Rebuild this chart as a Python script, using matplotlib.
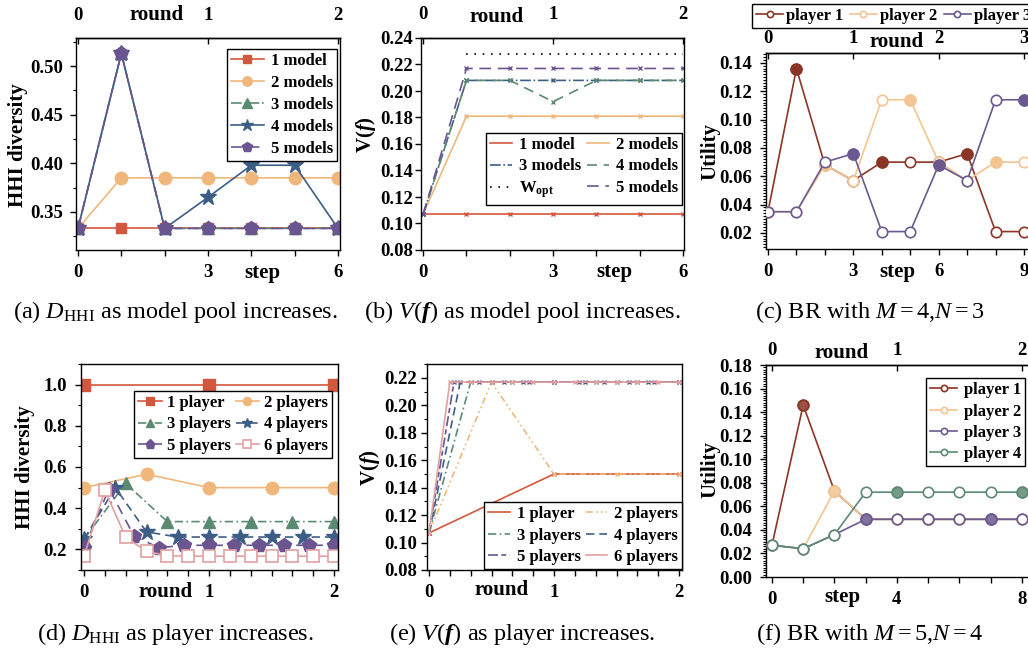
import numpy as np
import matplotlib
matplotlib.use('Agg')
import matplotlib.pyplot as plt
from matplotlib.ticker import MultipleLocator

plt.rcParams['font.family'] = ['Liberation Serif', 'DejaVu Serif']
plt.rcParams['font.weight'] = 'bold'
plt.rcParams['axes.labelweight'] = 'bold'
plt.rcParams['mathtext.fontset'] = 'custom'
plt.rcParams['mathtext.rm'] = 'Liberation Serif:style=normal:weight=normal'
plt.rcParams['mathtext.it'] = 'Liberation Serif:style=italic:weight=normal'
plt.rcParams['mathtext.bf'] = 'Liberation Serif:style=normal:weight=bold'
plt.rcParams['mathtext.bfit'] = 'Liberation Serif:style=italic:weight=bold'
plt.rcParams['axes.linewidth'] = 1.0

W, H = 1028, 652

# (a) HHI diversity vs step, model pool size
steps_a = [0, 1, 2, 3, 4, 5, 6]
hhi_1model = [0.333, 0.333, 0.333, 0.333, 0.333, 0.333, 0.333]
hhi_2models = [0.333, 0.385, 0.385, 0.385, 0.385, 0.385, 0.385]
hhi_3models = [0.333, 0.513, 0.333, 0.333, 0.333, 0.333, 0.333]
hhi_4models = [0.333, 0.513, 0.333, 0.365, 0.398, 0.398, 0.333]
hhi_5models = [0.333, 0.513, 0.333, 0.333, 0.333, 0.333, 0.333]

# (b) V(f) vs step, model pool size
v_1model = [0.107, 0.107, 0.107, 0.107, 0.107, 0.107, 0.107]
v_2models = [0.107, 0.181, 0.181, 0.181, 0.181, 0.181, 0.181]
v_3models = [0.107, 0.208, 0.208, 0.208, 0.208, 0.208, 0.208]
v_4models = [0.107, 0.208, 0.208, 0.192, 0.208, 0.208, 0.208]
v_5models = [0.107, 0.217, 0.217, 0.217, 0.217, 0.217, 0.217]
steps_wopt = [1, 2, 3, 4, 5, 6]
w_opt = [0.228, 0.228, 0.228, 0.228, 0.228, 0.228]

# (c) best response, M=4, N=3
steps_c = [0, 1, 2, 3, 4, 5, 6, 7, 8, 9]
util_c_p1 = [0.035, 0.136, 0.068, 0.057, 0.070, 0.070, 0.070, 0.076, 0.021, 0.021]
util_c_p2 = [0.035, 0.035, 0.068, 0.057, 0.114, 0.114, 0.070, 0.057, 0.070, 0.070]
util_c_p3 = [0.035, 0.035, 0.070, 0.076, 0.021, 0.021, 0.068, 0.057, 0.114, 0.114]
mover_c = [0, 1, 2, 3, 1, 2, 3, 1, 2, 3]  # player moving at each step (0 = none)

# (d) HHI diversity vs round, number of players
hhi_p1 = [1.0, 1.0, 1.0]
hhi_p2 = [0.50, 0.565, 0.50, 0.50, 0.50]
hhi_p3 = [0.25, 0.52, 0.335, 0.335, 0.335, 0.335, 0.335]
hhi_p4 = [0.25, 0.50, 0.285, 0.26, 0.26, 0.26, 0.26, 0.26, 0.26]
hhi_p5 = [0.205, 0.495, 0.265, 0.208, 0.22, 0.22, 0.22, 0.22, 0.22, 0.22, 0.22]
hhi_p6 = [0.167, 0.487, 0.26, 0.19, 0.17, 0.167, 0.167, 0.167, 0.167,
          0.167, 0.167, 0.167, 0.167]

# (e) V(f) vs round, number of players
v_p1 = [0.107, 0.150, 0.150]
v_p2 = [0.107, 0.217, 0.150, 0.150, 0.150]
v_p3 = [0.107, 0.217, 0.217, 0.217, 0.217, 0.217, 0.217]
v_p4 = [0.107, 0.217, 0.217, 0.217, 0.217, 0.217, 0.217, 0.217, 0.217]
v_p5 = [0.107, 0.217, 0.217, 0.217, 0.217, 0.217, 0.217, 0.217, 0.217, 0.217, 0.217]
v_p6 = [0.107, 0.217, 0.217, 0.217, 0.217, 0.217, 0.217, 0.217, 0.217,
        0.217, 0.217, 0.217, 0.217]

# (f) best response, M=5, N=4
steps_f = [0, 1, 2, 3, 4, 5, 6, 7, 8]
util_f_p1 = [0.027, 0.146, 0.073, 0.049, 0.049, 0.049, 0.049, 0.049, 0.049]
util_f_p2 = [0.027, 0.024, 0.073, 0.049, 0.049, 0.049, 0.049, 0.049, 0.049]
util_f_p3 = [0.027, 0.024, 0.036, 0.049, 0.049, 0.049, 0.049, 0.049, 0.049]
util_f_p4 = [0.027, 0.024, 0.036, 0.072, 0.072, 0.072, 0.072, 0.072, 0.072]
mover_f = [0, 1, 2, 3, 4, 1, 2, 3, 4]

c_red = '#d2573c'
c_org = '#f0b77c'
c_grn = '#5b8a72'
c_blu = '#3c5e86'
c_pur = '#6a5590'
c_pnk = '#e3a0a0'
p_red = '#8b3526'
p_org = '#f2c592'
p_pur = '#6b5a8f'
p_grn = '#5e8a74'

TICK = 13.5
WORD = 15
CAP = 17.5

fig = plt.figure(figsize=(W / 100, H / 100), dpi=100)


def box(x0, y0, x1, y1):
    return fig.add_axes([x0 / W, 1 - y1 / H, (x1 - x0) / W, (y1 - y0) / H])


def ftext(x, y, s, **kw):
    kw.setdefault('ha', 'center')
    kw.setdefault('va', 'center')
    fig.text(x / W, 1 - y / H, s, **kw)


def anchor(x, y):
    return (x / W, 1 - y / H)


def style(ax, ypad=5):
    ax.tick_params(axis='both', which='major', direction='out', length=4,
                   width=1, labelsize=TICK)
    ax.tick_params(axis='y', which='major', pad=ypad)
    ax.tick_params(axis='x', which='major', pad=6)
    ax.tick_params(which='minor', direction='out', length=2.2, width=0.8)
    ax.tick_params(axis='x', which='minor', length=4, width=1)


def top_axis(ax, ticks, labels, pad):
    sec = ax.secondary_xaxis('top')
    sec.set_xticks(ticks, labels=labels)
    sec.tick_params(direction='in', length=4, width=1, labelsize=TICK, pad=pad)
    return sec


leg_kw = dict(frameon=True, fancybox=False, framealpha=1, edgecolor='black',
              prop={'size': 12, 'weight': 'bold'}, borderpad=0.25,
              borderaxespad=0, bbox_transform=fig.transFigure)

# ---------------- (a)
ax = box(76, 38, 340, 250)
ax.plot(steps_a, hhi_1model, '-s', color=c_red, lw=1.2, ms=7.5, label='1 model')
ax.plot(steps_a, hhi_2models, '-o', color=c_org, lw=1.2, ms=9, label='2 models')
ax.plot(steps_a, hhi_3models, '-.^', color=c_grn, lw=1.2, ms=9, label='3 models')
ax.plot(steps_a, hhi_4models, '-*', color=c_blu, lw=1.2, ms=12, label='4 models')
ax.plot(steps_a, hhi_5models, '--p', color=c_pur, lw=1.2, ms=10,
        dashes=(7, 3), label='5 models')
ax.set_xlim(-0.046, 6.046)
ax.set_ylim(0.3108, 0.5289)
ax.set_xticks(steps_a, labels=['0', '', '', '3', '', '', '6'])
ax.yaxis.set_major_locator(MultipleLocator(0.05))
ax.yaxis.set_minor_locator(MultipleLocator(0.025))
ax.yaxis.set_major_formatter(lambda v, p: f'{v:.2f}')
style(ax)
top_axis(ax, [0, 3, 6], ['0', '1', '2'], 10)
ax.legend(loc='upper right', bbox_to_anchor=anchor(337, 49),
          markerscale=0.75, handlelength=2.0, handletextpad=0.4,
          labelspacing=0.36, **leg_kw)
ftext(18, 145, 'HHI diversity', rotation=90, fontsize=WORD)
ftext(157, 15, 'round', fontsize=WORD)
ftext(262, 273, 'step', fontsize=WORD)
ftext(175, 312, r'(a) $D_{\mathrm{HHI}}$ as model pool increases.',
      fontsize=CAP, fontweight='normal')

# ---------------- (b)
ax = box(421, 38, 684, 250)
mk = dict(marker='x', ms=3.5, mew=1, lw=1.2)
l1, = ax.plot(steps_a, v_1model, '-', color=c_red, label='1 model', **mk)
l2, = ax.plot(steps_a, v_2models, '-', color=c_org, label='2 models', **mk)
l3, = ax.plot(steps_a, v_3models, '-.', color=c_blu, label='3 models', **mk)
l4, = ax.plot(steps_a, v_4models, '--', color=c_grn, dashes=(6, 4),
              label='4 models', **mk)
l6, = ax.plot(steps_a, v_5models, '--', color=c_pur, dashes=(7, 4),
              label='5 models', **mk)
l5, = ax.plot(steps_wopt, w_opt, ':', color='black', lw=1.2, dashes=(1, 4),
              label=r'W$_{\mathbf{opt}}$')
ax.set_xlim(-0.05, 6.02)
ax.set_ylim(0.08, 0.24)
ax.set_xticks(steps_a, labels=['0', '', '', '3', '', '', '6'])
ax.yaxis.set_major_locator(MultipleLocator(0.02))
ax.yaxis.set_major_formatter(lambda v, p: f'{v:.2f}')
style(ax, ypad=2)
top_axis(ax, [0, 3, 6], ['0', '1', '2'], 11)
ax.legend(handles=[l1, l3, l5, l2, l4, l6], ncol=2, loc='upper right',
          bbox_to_anchor=anchor(682, 133), handlelength=1.3, handletextpad=0.4,
          columnspacing=0.4, labelspacing=0.32, markerscale=0, **leg_kw)
ftext(366, 135, r'V($\mathbfit{f}$)', rotation=90, fontsize=WORD)
ftext(497, 17, 'round', fontsize=WORD)
ftext(614, 272, 'step', fontsize=WORD)
ftext(522, 312, r'(b) $V(\mathbfit{f})$ as model pool increases.',
      fontsize=CAP, fontweight='normal')


def br_panel(ax, steps, series, colors, labels, mover, alpha):
    handles = []
    for i, (vals, col, lab) in enumerate(zip(series, colors, labels)):
        h, = ax.plot(steps, vals, '-o', color=col, lw=1.2, ms=7.5, mfc='white',
                     mew=1.2, label=lab, zorder=2 + i)
        sel = [k for k, m in enumerate(mover) if m == i + 1]
        ax.plot([steps[k] for k in sel], [vals[k] for k in sel], 'o',
                color=col, ms=8, alpha=alpha, zorder=2 + i)
        handles.append(h)
    return handles


# ---------------- (c)
ax = box(766, 53, 1030, 249)
hc = br_panel(ax, steps_c, [util_c_p1, util_c_p2, util_c_p3],
              [p_red, p_org, p_pur], ['player 1', 'player 2', 'player 3'],
              mover_c, 1.0)
ax.set_xlim(-0.07, 9.21)
ax.set_ylim(0.0087, 0.147)
ax.set_xticks(steps_c, labels=['0', '', '', '3', '', '', '6', '', '', '9'])
ax.yaxis.set_major_locator(MultipleLocator(0.02))
ax.yaxis.set_minor_locator(MultipleLocator(0.002))
ax.yaxis.set_major_formatter(lambda v, p: f'{v:.2f}')
style(ax, ypad=6)
top_axis(ax, [0, 3, 6, 9], ['0', '1', '2', '3'], 4)
ax.legend(handles=hc, ncol=3, loc='upper left', bbox_to_anchor=anchor(752, 4),
          handlelength=1.6, handletextpad=0.2, columnspacing=0.4,
          markerscale=0.6, **leg_kw)
ftext(710, 151, 'Utility', rotation=90, fontsize=WORD)
ftext(897, 42, 'round', fontsize=WORD)
ftext(897, 272, 'step', fontsize=WORD)
ftext(870, 312, r'(c) BR with $M=4$,$N=3$', fontsize=CAP,
      fontweight='normal')

# ---------------- (d)
ax = box(81, 364, 338, 570)


def rounds(vals):
    n = (len(vals) - 1) // 2
    return np.arange(len(vals)) / n


d1, = ax.plot(rounds(hhi_p1), hhi_p1, '-s', color=c_red, lw=1.2, ms=8,
              label='1 player')
d2, = ax.plot(rounds(hhi_p2), hhi_p2, '-o', color=c_org, lw=1.2, ms=9,
              label='2 players')
d3, = ax.plot(rounds(hhi_p3), hhi_p3, '-.^', color=c_grn, lw=1.2, ms=9,
              dashes=(5, 2, 1, 2), label='3 players')
d4, = ax.plot(rounds(hhi_p4), hhi_p4, '--*', color=c_blu, lw=1.2, ms=12,
              dashes=(5, 3), label='4 players')
d5, = ax.plot(rounds(hhi_p5), hhi_p5, '--p', color=c_pur, lw=1.2, ms=10,
              dashes=(6, 4), label='5 players')
d6, = ax.plot(rounds(hhi_p6), hhi_p6, '-s', color=c_pnk, lw=1.2, ms=8,
              mfc='white', mew=1.2, label='6 players')
ax.set_xlim(-0.024, 2.032)
ax.set_ylim(0.1, 1.1)
ax.set_xticks([0, 1, 2])
ax.xaxis.set_minor_locator(MultipleLocator(1 / 6))
ax.yaxis.set_major_locator(MultipleLocator(0.2))
ax.yaxis.set_minor_locator(MultipleLocator(0.1))
ax.yaxis.set_major_formatter(lambda v, p: f'{v:.1f}')
style(ax, ypad=6)
ax.legend(handles=[d1, d3, d5, d2, d4, d6], ncol=2, loc='upper right',
          bbox_to_anchor=anchor(332, 391), handlelength=1.4, handletextpad=0.3,
          columnspacing=0.3, labelspacing=0.32, markerscale=0.65, **leg_kw)
ftext(25, 467, 'HHI diversity', rotation=90, fontsize=WORD)
ftext(166, 592, 'round', fontsize=WORD)
ftext(175, 634, r'(d) $D_{\mathrm{HHI}}$ as player increases.',
      fontsize=CAP, fontweight='normal')

# ---------------- (e)
ax = box(427, 364, 682, 570)
mk = dict(marker='x', ms=3.5, mew=1, lw=1.2)
e1, = ax.plot(rounds(v_p1), v_p1, '-', color=c_red, label='1 player', **mk)
e2, = ax.plot(rounds(v_p2), v_p2, '-.', color=c_org, dashes=(4, 2, 1, 2, 1, 2),
              label='2 players', **mk)
e3, = ax.plot(rounds(v_p3), v_p3, '-.', color=c_grn, dashes=(5, 2, 1, 2),
              label='3 players', **mk)
e4, = ax.plot(rounds(v_p4), v_p4, '--', color=c_blu, dashes=(5, 3),
              label='4 players', **mk)
e5, = ax.plot(rounds(v_p5), v_p5, '--', color=c_pur, dashes=(6, 2, 3, 2),
              label='5 players', **mk)
e6, = ax.plot(rounds(v_p6), v_p6, '-', color=c_pnk, label='6 players', **mk)
ax.set_xlim(-0.016, 2.024)
ax.set_ylim(0.08, 0.2302)
ax.set_xticks([0, 1, 2])
ax.xaxis.set_minor_locator(MultipleLocator(1 / 6))
ax.yaxis.set_major_locator(MultipleLocator(0.02))
ax.yaxis.set_minor_locator(MultipleLocator(0.01))
ax.yaxis.set_major_formatter(lambda v, p: f'{v:.2f}')
style(ax, ypad=3)
ax.legend(handles=[e1, e3, e5, e2, e4, e6], ncol=2, loc='lower right',
          bbox_to_anchor=anchor(682, 569), handlelength=1.3, handletextpad=0.4,
          columnspacing=0.3, labelspacing=0.32, markerscale=0, **leg_kw)
ftext(370, 468, r'V($\mathbfit{f}$)', rotation=90, fontsize=WORD)
ftext(502, 590, 'round', fontsize=WORD)
ftext(522, 634, r'(e) $V(\mathbfit{f})$ as player increases.',
      fontsize=CAP, fontweight='normal')

# ---------------- (f)
ax = box(766, 365, 1030, 577)
hf = br_panel(ax, steps_f, [util_f_p1, util_f_p2, util_f_p3, util_f_p4],
              [p_red, p_org, p_pur, p_grn],
              ['player 1', 'player 2', 'player 3', 'player 4'], mover_f, 0.85)
ax.set_xlim(-0.19, 8.26)
ax.set_ylim(0.0, 0.18)
ax.set_xticks(steps_f, labels=['0', '', '', '', '4', '', '', '', '8'])
ax.yaxis.set_major_locator(MultipleLocator(0.02))
ax.yaxis.set_minor_locator(MultipleLocator(0.002))
ax.yaxis.set_major_formatter(lambda v, p: f'{v:.2f}')
style(ax, ypad=6)
top_axis(ax, [0, 4, 8], ['0', '1', '2'], 4)
ax.legend(handles=hf, loc='upper right', bbox_to_anchor=anchor(1025, 378),
          handlelength=1.6, handletextpad=0.4, labelspacing=0.32,
          markerscale=0.6, **leg_kw)
ftext(710, 469, 'Utility', rotation=90, fontsize=WORD)
ftext(842, 353, 'round', fontsize=WORD)
ftext(842, 597, 'step', fontsize=WORD)
ftext(870, 634, r'(f) BR with $M=5$,$N=4$', fontsize=CAP,
      fontweight='normal')

fig.savefig('out.png', dpi=100)
